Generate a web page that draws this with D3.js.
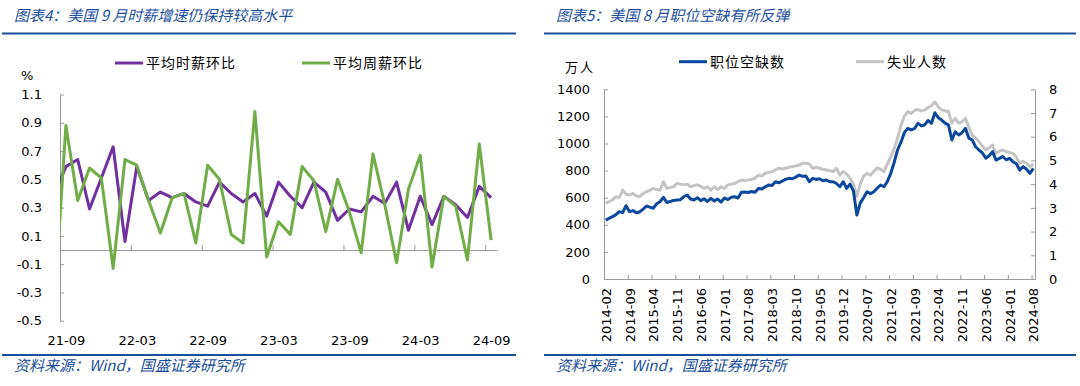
<!DOCTYPE html>
<html>
<head>
<meta charset="utf-8">
<script src="https://cdn.jsdelivr.net/npm/d3@7"></script>
<style>
body { margin: 0; background: #fff; }
svg text { font-family: "DejaVu Sans", Verdana, sans-serif; fill: #000; }
svg text.cn { font-family: "Noto Sans CJK SC", sans-serif; }
.axis path, .axis line { stroke: #999; }
</style>
</head>
<body>
<svg id="chart" width="1080" height="386"></svg>
<script>
// ---- left chart: wage growth m/m (%) ----
var wageMonths = ["21-08","21-09","21-10","21-11","21-12","22-01","22-02","22-03","22-04","22-05","22-06","22-07","22-08",
  "22-09","22-10","22-11","22-12","23-01","23-02","23-03","23-04","23-05","23-06","23-07","23-08",
  "23-09","23-10","23-11","23-12","24-01","24-02","24-03","24-04","24-05","24-06","24-07","24-08","24-09"];
var hourlyWage = [0.39, 0.59, 0.64, 0.29, 0.51, 0.73, 0.06, 0.59, 0.35, 0.41, 0.37, 0.40, 0.34,
  0.31, 0.48, 0.40, 0.34, 0.40, 0.24, 0.48, 0.38, 0.30, 0.48, 0.41, 0.21,
  0.29, 0.27, 0.38, 0.33, 0.48, 0.14, 0.38, 0.18, 0.38, 0.32, 0.23, 0.45, 0.37];
var weeklyWage = [-0.41, 0.88, 0.35, 0.58, 0.51, -0.13, 0.64, 0.60, 0.35, 0.12, 0.37, 0.40, 0.05,
  0.60, 0.50, 0.11, 0.05, 0.98, -0.05, 0.20, 0.11, 0.59, 0.49, 0.13, 0.50,
  0.27, -0.02, 0.68, 0.32, -0.09, 0.43, 0.67, -0.12, 0.38, 0.31, -0.07, 0.75, 0.07];
var wageTicksY = [-0.5, -0.3, -0.1, 0.1, 0.3, 0.5, 0.7, 0.9, 1.1];
var wageLabels = ["21-09","22-03","22-09","23-03","23-09","24-03","24-09"];

// ---- right chart: job openings / unemployed ----
var jobOpenings = [435, 448, 460, 475, 497, 490, 541, 497, 505, 489, 495,
  515, 539, 530, 522, 555, 570, 603, 565, 572, 580, 583, 585,
  607, 620, 590, 583, 600, 578, 592, 572, 595, 576, 590, 568,
  598, 586, 604, 607, 598, 640, 642, 638, 646, 640, 668, 664,
  680, 694, 690, 718, 710, 722, 735, 743, 740, 752, 767, 758,
  760, 718, 743, 735, 740, 725, 730, 718, 718, 705, 681, 718,
  669, 700, 650, 472, 560, 600, 644, 630, 644, 670, 694, 681,
  720, 780, 860, 952, 1010, 1080, 1112, 1100, 1110, 1149, 1130, 1137,
  1170, 1149, 1227, 1190, 1173, 1150, 1137, 1026, 1087, 1063, 1080, 1112,
  1040, 1026, 976, 952, 930, 891, 910, 940, 878, 890, 903, 880,
  891, 866, 850, 804, 829, 810, 780, 817];
var unemployed = [3.19, 3.26, 3.34, 3.47, 3.43, 3.75, 3.57, 3.54, 3.61, 3.51, 3.47,
  3.60, 3.68, 3.74, 3.82, 3.77, 3.75, 4.10, 3.82, 3.86, 3.89, 4.03, 4.00,
  3.97, 4.00, 3.89, 3.94, 3.97, 3.91, 3.82, 3.89, 3.75, 3.89, 3.77, 3.89,
  3.82, 3.97, 4.00, 4.03, 4.11, 4.18, 4.14, 4.18, 4.20, 4.25, 4.38, 4.34,
  4.46, 4.49, 4.53, 4.60, 4.67, 4.64, 4.67, 4.71, 4.74, 4.77, 4.81, 4.88,
  4.88, 4.85, 4.67, 4.71, 4.67, 4.63, 4.60, 4.57, 4.53, 4.67, 4.38, 4.53,
  4.43, 4.25, 4.00, 3.47, 4.00, 4.34, 4.46, 4.38, 4.54, 4.68, 4.63, 4.53,
  4.86, 5.16, 5.49, 5.94, 6.46, 6.86, 7.06, 6.98, 7.11, 7.15, 7.09, 7.13,
  7.23, 7.31, 7.47, 7.26, 7.13, 7.09, 7.06, 6.57, 6.78, 6.57, 6.63, 6.78,
  6.40, 6.07, 5.94, 5.79, 5.60, 5.44, 5.54, 5.65, 5.30, 5.40, 5.44, 5.37,
  5.34, 5.30, 5.14, 4.88, 4.97, 4.88, 4.74, 4.85];
var jobMonths = d3.timeMonth.range(new Date(2014, 1, 1), new Date(2024, 8, 1)); // 2014-02 .. 2024-08
var jobTicksL = [0, 200, 400, 600, 800, 1000, 1200, 1400];
var jobTicksR = [0, 1, 2, 3, 4, 5, 6, 7, 8];
var fmtMonth = d3.timeFormat("%Y-%m");

var svg = d3.select("#chart");
var blue = "#1b4f9c";

// header / footer rules
function frame(x0, x1, title) {
  svg.append("text").attr("x", x0 + 12).attr("y", 21)
    .attr("class", "cn").style("font-size", "15px").style("font-style", "italic")
    .style("fill", blue).text(title);
  svg.append("line").attr("x1", x0).attr("x2", x1).attr("y1", 33.5).attr("y2", 33.5)
    .attr("stroke", blue).attr("stroke-width", 2);
  svg.append("line").attr("x1", x0).attr("x2", x1).attr("y1", 355).attr("y2", 355)
    .attr("stroke", blue).attr("stroke-width", 2);
  svg.append("text").attr("x", x0 + 12).attr("y", 371)
    .attr("class", "cn").style("font-size", "15px").style("font-style", "italic")
    .style("fill", blue).text("资料来源：Wind，国盛证券研究所");
}
frame(2, 516, "图表4：美国 9 月时薪增速仍保持较高水平");
frame(544, 1076, "图表5：美国 8 月职位空缺有所反弹");

function legendItem(x, y, color, label) {
  svg.append("line").attr("x1", x).attr("x2", x + 28).attr("y1", y).attr("y2", y)
    .attr("stroke", color).attr("stroke-width", 3);
  svg.append("text").attr("x", x + 31).attr("y", y).attr("dy", "0.35em")
    .attr("class", "cn").style("font-size", "14px").style("letter-spacing", "1px").text(label);
}

// ================= left chart =================
var L = {left: 60, right: 497, top: 94.5, bottom: 320.7};
// visible index 0 = 21-09 (21-08 sits at -1 and gets clipped)
var xL = d3.scaleLinear().domain([-0.5, 36.5]).range([L.left, L.right]);
var yL = d3.scaleLinear().domain([-0.5, 1.1]).range([L.bottom, L.top]);

svg.append("clipPath").attr("id", "clipL").append("rect")
  .attr("x", L.left).attr("y", 60).attr("width", L.right - L.left).attr("height", 280);

var gL = svg.append("g");

gL.append("g").attr("class", "axis").attr("transform", "translate(" + L.left + ",0)")
  .call(d3.axisLeft(yL).tickValues(wageTicksY).tickSize(-4).tickSizeOuter(0).tickPadding(18)
    .tickFormat(function(d) { return d.toFixed(1); }))
  .call(function(g) { g.selectAll("text").style("font-size", "13px").style("font-family", null); });

// x axis at zero, ticks every 6 months between categories
var bounds = d3.range(1, 7).map(function(k) { return 6 * k - 0.5; });
gL.append("g").attr("class", "axis").attr("transform", "translate(0," + yL(0) + ")")
  .call(d3.axisBottom(xL).tickValues(bounds).tickSize(-5).tickSizeOuter(0).tickFormat(""));

// month labels at the bottom
gL.append("g").attr("transform", "translate(0," + (L.bottom + 12) + ")")
  .call(d3.axisBottom(xL).tickValues(wageLabels.map(function(m) { return wageMonths.indexOf(m) - 1; }))
    .tickSize(0).tickFormat(function(d) { return wageMonths[d + 1]; }))
  .call(function(g) {
    g.select(".domain").remove();
    g.selectAll("text").style("font-size", "13px").style("font-family", null);
  });

var wageLine = function(arr) {
  return d3.line().x(function(d, i) { return xL(i - 1); }).y(function(d) { return yL(d); })(arr);
};
gL.append("path").attr("clip-path", "url(#clipL)").attr("d", wageLine(hourlyWage))
  .attr("fill", "none").attr("stroke", "#7030a0").attr("stroke-width", 3).attr("stroke-linejoin", "round");
gL.append("path").attr("clip-path", "url(#clipL)").attr("d", wageLine(weeklyWage))
  .attr("fill", "none").attr("stroke", "#70ad47").attr("stroke-width", 3).attr("stroke-linejoin", "round");

svg.append("text").attr("x", 21).attr("y", 75).attr("dy", "0.35em").style("font-size", "13px").text("%");
legendItem(115, 63, "#7030a0", "平均时薪环比");
legendItem(302, 63, "#70ad47", "平均周薪环比");

// ================= right chart =================
var R = {left: 604, right: 1035, top: 89.3, bottom: 279};
var xR = d3.scaleLinear().domain([0, jobMonths.length]).range([R.left, R.right]);
var yRL = d3.scaleLinear().domain([0, 1400]).range([R.bottom, R.top]);
var yRR = d3.scaleLinear().domain([0, 8]).range([R.bottom, R.top]);

var gR = svg.append("g");
gR.append("g").attr("class", "axis").attr("transform", "translate(" + R.left + ",0)")
  .call(d3.axisLeft(yRL).tickValues(jobTicksL).tickSize(-4).tickSizeOuter(0).tickPadding(14)
    .tickFormat(d3.format("d")))
  .call(function(g) { g.selectAll("text").style("font-size", "13px").style("font-family", null); });
gR.append("g").attr("class", "axis").attr("transform", "translate(" + R.right + ",0)")
  .call(d3.axisRight(yRR).tickValues(jobTicksR).tickSize(-4).tickSizeOuter(0).tickPadding(14))
  .call(function(g) { g.selectAll("text").style("font-size", "13px").style("font-family", null); });

var labelIdx = d3.range(0, jobMonths.length, 7);
gR.append("g").attr("class", "axis").attr("transform", "translate(0," + R.bottom + ")")
  .call(d3.axisBottom(xR).tickValues(labelIdx).tickSize(-4).tickSizeOuter(0).tickFormat(""));
gR.append("g").attr("transform", "translate(0," + R.bottom + ")")
  .call(d3.axisBottom(xR).tickValues(labelIdx.map(function(i) { return i + 0.5; })).tickSize(0)
    .tickFormat(function(d) { return fmtMonth(jobMonths[d - 0.5]); }))
  .call(function(g) {
    g.select(".domain").remove();
    g.selectAll("text").style("font-size", "13px").style("font-family", null)
      .attr("transform", "rotate(-90)").attr("x", -9).attr("y", 0).attr("dy", "0.35em")
      .style("text-anchor", "end");
  });

gR.append("path")
  .attr("d", d3.line().x(function(d, i) { return xR(i + 0.5); }).y(function(d) { return yRR(d); })(unemployed))
  .attr("fill", "none").attr("stroke", "#c4c4c4").attr("stroke-width", 3).attr("stroke-linejoin", "round");
gR.append("path")
  .attr("d", d3.line().x(function(d, i) { return xR(i + 0.5); }).y(function(d) { return yRL(d); })(jobOpenings))
  .attr("fill", "none").attr("stroke", "#0b479c").attr("stroke-width", 3).attr("stroke-linejoin", "round");

svg.append("text").attr("x", 565).attr("y", 67).attr("dy", "0.35em").attr("class", "cn")
  .style("font-size", "13px").style("letter-spacing", "2px").text("万人");
legendItem(679, 61.7, "#0b479c", "职位空缺数");
legendItem(856, 61.7, "#c4c4c4", "失业人数");
</script>
</body>
</html>
